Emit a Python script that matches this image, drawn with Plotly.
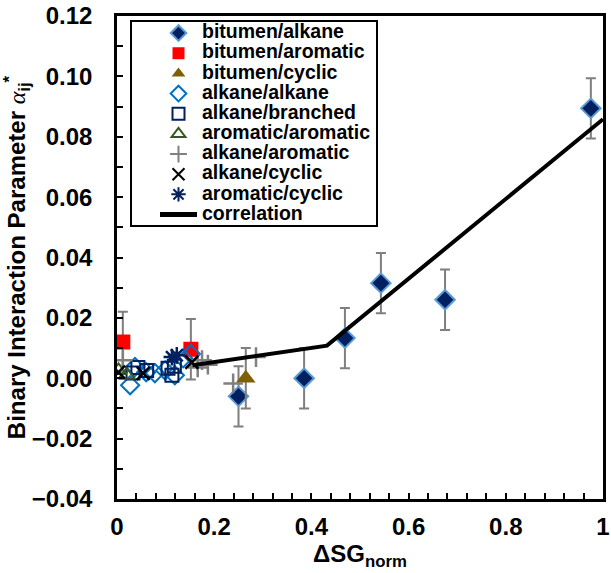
import plotly.graph_objects as go

# bitumen/alkane
bit_alk_x = [0.25, 0.385, 0.469, 0.543, 0.675, 0.975]
bit_alk_y = [-0.006, 0.000, 0.0133, 0.0315, 0.026, 0.0894]
bit_alk_err = [0.01, 0.01, 0.01, 0.01, 0.01, 0.01]

# bitumen/aromatic
bit_aro_x = [0.012, 0.152]
bit_aro_y = [0.012, 0.0096]
bit_aro_err = [0.01, 0.01]

# bitumen/cyclic
bit_cyc_x = [0.265]
bit_cyc_y = [0.000]
bit_cyc_err = [0.01]

# alkane/alkane
alk_alk_x = [0.027, 0.037, 0.078, 0.099, 0.119, 0.136, 0.152, 0.060]
alk_alk_y = [-0.0023, 0.0037, 0.0017, 0.0026, 0.0010, 0.0066, 0.0080, 0.0020]

# alkane/branched
alk_br_x = [0.033, 0.043, 0.061, 0.105, 0.113, 0.118]
alk_br_y = [0.0017, 0.0036, 0.0026, 0.0033, 0.0010, 0.0040]

# aromatic/aromatic
aro_aro_x = [0.003, 0.020]
aro_aro_y = [0.0026, 0.0010]

# alkane/aromatic
alk_aro_x = [0.012, 0.166, 0.175, 0.187, 0.239, 0.286]
alk_aro_y = [0.0060, 0.0036, 0.0060, 0.0045, -0.0017, 0.0070]

# alkane/cyclic
alk_cyc_x = [0.003, 0.054, 0.154]
alk_cyc_y = [0.0020, 0.0016, 0.0053]

# aromatic/cyclic
aro_cyc_x = [0.113, 0.123]
aro_cyc_y = [0.0070, 0.0076]

# correlation
corr_x = [0.155, 0.432, 1.0]
corr_y = [0.0043, 0.0108, 0.0858]

x_ticks = [0, 0.2, 0.4, 0.6, 0.8, 1.0]
x_labels = ["0", "0.2", "0.4", "0.6", "0.8", "1"]
y_ticks = [-0.04, -0.02, 0.0, 0.02, 0.04, 0.06, 0.08, 0.10, 0.12]

FONT = "Liberation Sans, Arial, sans-serif"
ERR = dict(type="data", visible=True, color="#7f7f7f", thickness=2, width=5)

# page and plot-area geometry (pixels)
W, H = 611, 573
ML, MR, MT, MB = 117, 8, 16, 74
PW, PH = W - ML - MR, H - MT - MB


def px_to_paper(px, py):
    return (px - ML) / PW, (H - MB - py) / PH


def legend_label(text):
    # rows are spaced by the (small) legend font; the label itself is larger
    return f"<span style='font-size:19.5px'>{text}</span>"


fig = go.Figure()

fig.add_trace(go.Scatter(
    x=bit_alk_x, y=bit_alk_y, mode="markers", name=legend_label("bitumen/alkane"),
    error_y=dict(array=bit_alk_err, **ERR),
    marker=dict(symbol="diamond", size=15, color="#002060",
                line=dict(color="#5b9bd5", width=2)),
))
fig.add_trace(go.Scatter(
    x=bit_aro_x, y=bit_aro_y, mode="markers", name=legend_label("bitumen/aromatic"),
    error_y=dict(array=bit_aro_err, **ERR),
    marker=dict(symbol="square", size=15, color="#ff0000", line=dict(width=0)),
))
fig.add_trace(go.Scatter(
    x=bit_cyc_x, y=bit_cyc_y, mode="markers", name=legend_label("bitumen/cyclic"),
    error_y=dict(array=bit_cyc_err, **ERR),
    marker=dict(symbol="triangle-up", size=17, color="#7f6000", line=dict(width=0)),
))
fig.add_trace(go.Scatter(
    x=alk_alk_x, y=alk_alk_y, mode="markers", name=legend_label("alkane/alkane"),
    marker=dict(symbol="diamond-open", size=14, color="#0070c0",
                line=dict(color="#0070c0", width=2)),
))
fig.add_trace(go.Scatter(
    x=alk_br_x, y=alk_br_y, mode="markers", name=legend_label("alkane/branched"),
    marker=dict(symbol="square-open", size=13, color="#002060",
                line=dict(color="#002060", width=2)),
))
fig.add_trace(go.Scatter(
    x=aro_aro_x, y=aro_aro_y, mode="markers", name=legend_label("aromatic/aromatic"),
    marker=dict(symbol="triangle-up-open", size=14, color="#375623",
                line=dict(color="#375623", width=2)),
))
fig.add_trace(go.Scatter(
    x=alk_aro_x, y=alk_aro_y, mode="markers", name=legend_label("alkane/aromatic"),
    marker=dict(symbol="cross-thin-open", size=14, color="#808080",
                line=dict(color="#808080", width=2.5)),
))
fig.add_trace(go.Scatter(
    x=alk_cyc_x, y=alk_cyc_y, mode="markers", name=legend_label("alkane/cyclic"),
    marker=dict(symbol="x-thin-open", size=13, color="#000000",
                line=dict(color="#000000", width=2.5)),
))
fig.add_trace(go.Scatter(
    x=aro_cyc_x, y=aro_cyc_y, mode="markers", name=legend_label("aromatic/cyclic"),
    marker=dict(symbol="asterisk-open", size=14, color="#002060",
                line=dict(color="#002060", width=2.5)),
))
fig.add_trace(go.Scatter(
    x=corr_x, y=corr_y, mode="lines", name=legend_label("correlation"),
    line=dict(color="#000000", width=4),
))

axis_common = dict(
    showline=True, linecolor="black", linewidth=2.5, mirror=True,
    ticks="inside", ticklen=6, tickwidth=2, tickcolor="black",
    showgrid=False, zeroline=False, automargin=False,
    ticklabeloverflow="allow",
    tickfont=dict(family=FONT, size=24, color="black", weight="bold"),
)

fig.update_xaxes(
    range=[0, 1], tickvals=x_ticks, ticktext=x_labels,
    ticklabelstandoff=4,
    minor=dict(dtick=0.04, tick0=0, ticks="inside", ticklen=6, tickwidth=2, tickcolor="black"),
    title=dict(text="ΔSG<sub>norm</sub>", standoff=3,
               font=dict(family=FONT, size=24, color="black", weight="bold")),
    **axis_common,
)
fig.update_yaxes(
    range=[-0.04, 0.12], tickvals=y_ticks, tickformat=".2f",
    ticklabelstandoff=17,
    minor=dict(dtick=0.01, tick0=0, ticks="inside", ticklen=6, tickwidth=2, tickcolor="black"),
    title=dict(
        text="Binary Interaction Parameter "
             "<span style='font-family:Liberation Serif;font-style:italic;font-weight:normal'>α</span>"
             "<sub>ij</sub><sup>*</sup>",
        standoff=1,
        font=dict(family=FONT, size=24, color="black", weight="bold")),
    **axis_common,
)

# framed white box behind the legend entries
bx0, by0 = px_to_paper(131, 226)
bx1, by1 = px_to_paper(377, 21)
fig.add_shape(type="rect", xref="paper", yref="paper",
              x0=bx0, y0=by0, x1=bx1, y1=by1,
              fillcolor="white", line=dict(color="black", width=2), layer="above")

lx, ly = px_to_paper(155, 18)
fig.update_layout(
    width=W, height=H,
    margin=dict(l=ML, r=MR, t=MT, b=MB, autoexpand=False),
    plot_bgcolor="white", paper_bgcolor="white",
    showlegend=True,
    legend=dict(
        x=lx, y=ly, xanchor="left", yanchor="top",
        bgcolor="rgba(0,0,0,0)", borderwidth=0,
        font=dict(family=FONT, size=13.2, color="black", weight="bold"),
        tracegroupgap=0, itemwidth=37, itemsizing="constant",
    ),
)

fig.write_html("out.html")
